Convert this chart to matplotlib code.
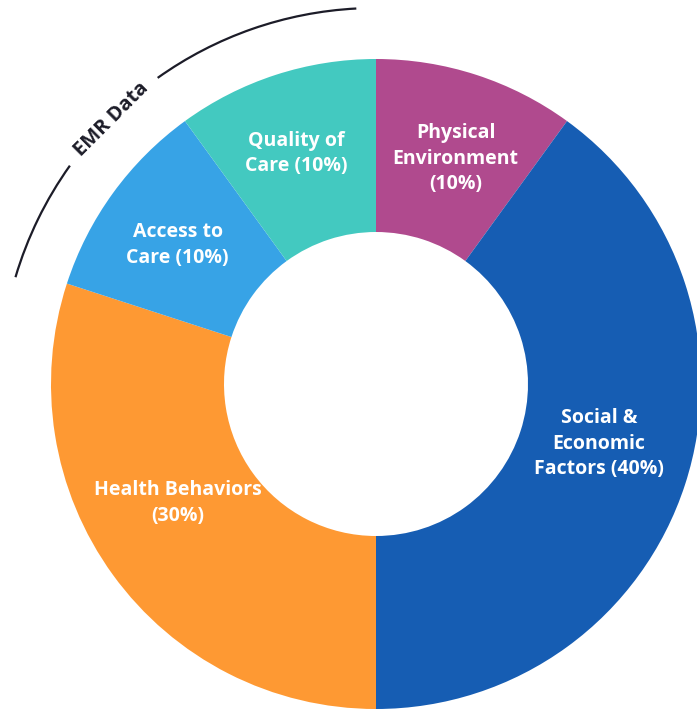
import numpy as np
import matplotlib.pyplot as plt
from matplotlib.patches import Arc

plt.rcParams['font.family'] = ['Open Sans', 'DejaVu Sans']

# DATA (clockwise from 12 o'clock)
labels = ["Physical\nEnvironment\n(10%)",
          "Social &\nEconomic\nFactors (40%)",
          "Health Behaviors\n(30%)",
          "Access to\nCare (10%)",
          "Quality of\nCare (10%)"]
shares = [10, 40, 30, 10, 10]
colors = ['#B04A8E', '#165DB3', '#FE9933', '#37A3E6', '#43C9C0']

# label placement tweaks (degrees added to wedge mid-angle, radius)
label_shift = [-1.5, 3, -5, 1, 1]
label_rad = [0.735, 0.71, 0.71, 0.745, 0.75]

inner = 152 / 325

fig = plt.figure(figsize=(6.97, 7.10), dpi=100)
ax = fig.add_axes([0, 0, 1, 1])

wedges, _ = ax.pie(shares, colors=colors, startangle=90, counterclock=False,
                   radius=1, wedgeprops=dict(width=1 - inner, linewidth=0))

for w, lab, ds, r in zip(wedges, labels, label_shift, label_rad):
    mid = np.deg2rad((w.theta1 + w.theta2) / 2 + ds)
    ax.text(r * np.cos(mid), r * np.sin(mid), lab, ha='center', va='center',
            color='white', fontsize=14, fontweight='bold', linespacing=1.36)

# EMR Data arc over the left-top wedges
arc_r = 376 / 325
ax.add_patch(Arc((0, 0), 2 * arc_r, 2 * arc_r, theta1=93, theta2=125.5,
                 color='#1c1c28', lw=1.6))
ax.add_patch(Arc((0, 0), 2 * arc_r, 2 * arc_r, theta1=144.5, theta2=163.5,
                 color='#1c1c28', lw=1.6))
t = np.deg2rad(135)
ax.text(1.15 * np.cos(t), 1.15 * np.sin(t), "EMR Data", rotation=45,
        ha='center', va='center', fontsize=14.5, fontweight='bold', color='#1c1c28')

ax.set_xlim(-376 / 325, 321 / 325)
ax.set_ylim(-326 / 325, 384 / 325)
ax.set_aspect('equal')
ax.axis('off')

fig.savefig('out.png', dpi=100)
